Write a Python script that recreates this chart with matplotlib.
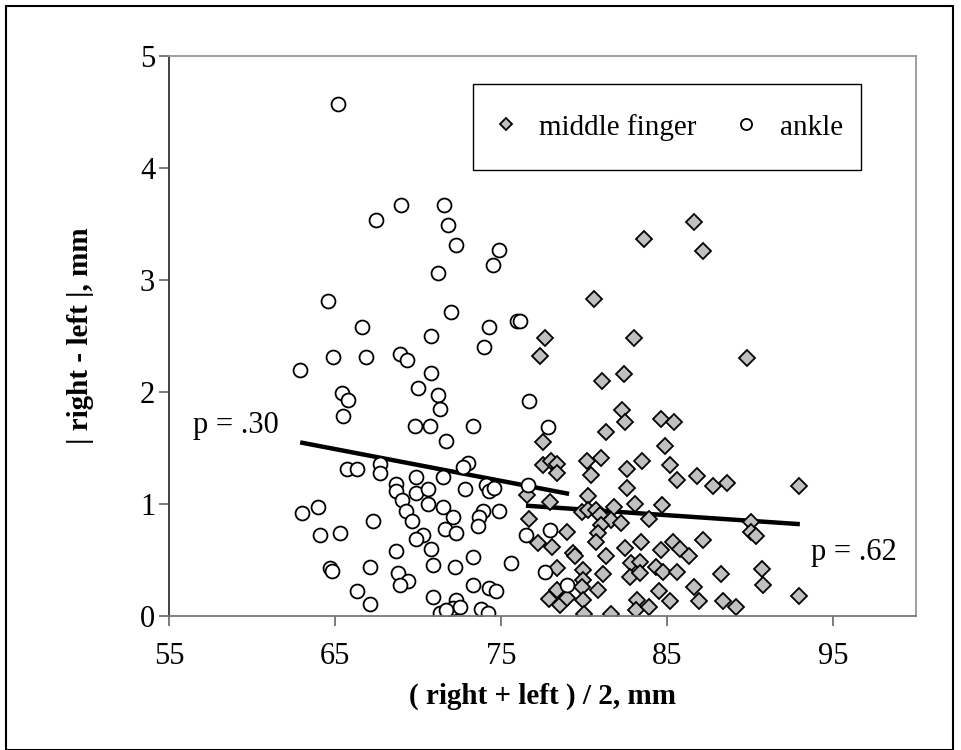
import matplotlib
matplotlib.use("Agg")
import matplotlib.pyplot as plt
from matplotlib.patches import Rectangle

# ankle: mean of right/left (mm) and absolute difference (mm)
ankle_x = [65.2, 67.45, 69.0, 71.55, 71.8, 72.3, 74.9, 74.5, 71.2, 64.55,
           72.0, 75.95, 76.15, 66.6, 74.3, 70.8, 74.0, 68.9, 69.35, 64.9,
           66.85, 62.9, 70.8, 70.0, 65.4, 65.8, 71.2, 71.3, 76.7, 65.5,
           69.8, 70.7, 73.3, 77.8, 71.7, 65.7, 66.35, 67.7, 67.7, 73.0,
           72.7, 69.85, 71.5, 68.65, 68.7, 69.85, 70.6, 72.8, 74.1, 74.3,
           74.6, 76.6, 69.05, 70.6, 71.5, 63.0, 64.0, 69.25, 73.9, 74.9,
           69.65, 72.1, 73.7, 67.3, 73.6, 71.6, 72.3, 64.1, 65.3, 70.3,
           69.85, 70.8, 68.65, 77.95, 76.5, 73.3, 75.6, 70.9, 67.1, 72.25,
           64.7, 64.8, 68.8, 77.65, 69.4, 68.9, 79.0, 73.3, 66.3, 74.3,
           74.7, 70.9, 67.1, 72.3, 72.1, 72.5, 71.3, 71.7, 73.8, 74.2]
ankle_y = [4.57, 3.54, 3.67, 3.67, 3.49, 3.31, 3.27, 3.13, 3.06, 2.81,
           2.71, 2.63, 2.63, 2.58, 2.58, 2.50, 2.40, 2.34, 2.29, 2.31,
           2.31, 2.20, 2.17, 2.04, 1.99, 1.93, 1.97, 1.85, 1.92, 1.79,
           1.70, 1.70, 1.70, 1.69, 1.56, 1.31, 1.31, 1.36, 1.28, 1.37,
           1.33, 1.24, 1.24, 1.18, 1.12, 1.10, 1.13, 1.13, 1.17, 1.12,
           1.14, 1.17, 1.04, 1.00, 0.97, 0.92, 0.97, 0.94, 0.94, 0.94,
           0.85, 0.88, 0.885, 0.85, 0.80, 0.78, 0.74, 0.72, 0.74, 0.72,
           0.69, 0.60, 0.58, 0.77, 0.72, 0.53, 0.47, 0.455, 0.44, 0.44,
           0.43, 0.40, 0.38, 0.39, 0.31, 0.28, 0.28, 0.28, 0.22, 0.25,
           0.22, 0.17, 0.11, 0.14, 0.07, 0.08, 0.03, 0.05, 0.06, 0.03]

# middle finger
finger_x = [86.65, 83.63, 87.15, 80.6, 77.65, 77.35, 83.03, 89.8, 81.1, 82.4,
            82.3, 82.45, 84.65, 85.45, 81.35, 84.85, 77.5, 77.5, 78.0, 78.35,
            78.35, 80.15, 81.0, 80.4, 82.6, 83.5, 85.2, 85.6, 86.8, 87.75,
            88.6, 92.95, 82.6, 80.25, 83.05, 84.7, 76.55, 77.95, 76.7, 79.85,
            80.25, 80.75, 80.95, 81.8, 81.65, 82.25, 81.05, 80.85, 83.9, 90.05,
            90.05, 90.35, 77.2, 78.1, 79.0, 79.35, 79.45, 80.75, 81.35, 82.45,
            83.45, 84.65, 85.35, 85.8, 86.3, 87.15, 78.4, 79.95, 79.95, 81.15,
            82.85, 83.35, 82.75, 83.35, 84.35, 84.75, 85.6, 88.25, 90.7, 90.8,
            92.95, 78.35, 77.9, 78.55, 79.0, 79.85, 79.95, 80.0, 80.85, 81.6,
            83.2, 83.15, 83.9, 84.5, 85.2, 86.65, 86.9, 88.35, 89.15]
finger_y = [3.52, 3.37, 3.26, 2.83, 2.48, 2.32, 2.48, 2.30, 2.10, 2.16,
            1.84, 1.73, 1.76, 1.73, 1.64, 1.52, 1.55, 1.35, 1.38, 1.36,
            1.28, 1.38, 1.41, 1.26, 1.31, 1.38, 1.35, 1.21, 1.25, 1.16,
            1.19, 1.16, 1.145, 1.07, 1.00, 0.99, 1.08, 1.02, 0.87, 0.93,
            0.95, 0.945, 0.90, 0.975, 0.86, 0.83, 0.81, 0.74, 0.87, 0.84,
            0.75, 0.71, 0.65, 0.62, 0.75, 0.56, 0.535, 0.66, 0.535, 0.61,
            0.66, 0.59, 0.66, 0.595, 0.535, 0.68, 0.43, 0.41, 0.32, 0.375,
            0.475, 0.485, 0.35, 0.38, 0.44, 0.395, 0.395, 0.375, 0.42, 0.28,
            0.18, 0.23, 0.15, 0.10, 0.16, 0.26, 0.14, 0.02, 0.23, 0.02,
            0.14, 0.05, 0.08, 0.225, 0.13, 0.256, 0.13, 0.13, 0.08]

# linear trend lines (end points)
ankle_fit_x = [62.9, 79.1]
ankle_fit_y = [1.55, 1.09]
finger_fit_x = [76.5, 93.0]
finger_fit_y = [0.985, 0.82]

x_ticks = [55, 65, 75, 85, 95]
y_ticks = [0, 1, 2, 3, 4, 5]

plt.rcParams['font.family'] = ['Liberation Serif', 'DejaVu Serif']

fig = plt.figure(figsize=(9.61, 7.5), dpi=100)
ax = fig.add_axes([0.1759, 0.1787, 0.7773, 0.7466])

# trend lines sit under the markers
ax.plot(ankle_fit_x, ankle_fit_y, color='black', lw=3.2, zorder=1.5, solid_capstyle='butt')
ax.plot(finger_fit_x, finger_fit_y, color='black', lw=3.2, zorder=1.5, solid_capstyle='butt')

ax.plot(finger_x, finger_y, ls='none', marker='D', ms=8.2, mfc='#c0c0c0',
        mec='black', mew=1.3, label='middle finger', zorder=2)
ax.plot(ankle_x, ankle_y, ls='none', marker='o', ms=10, mfc='white',
        mec='black', mew=1.3, label='ankle', zorder=2.1)

ax.set_xlim(55, 100)
ax.set_ylim(0, 5)
ax.set_xticks(x_ticks)
ax.set_yticks(y_ticks)
ax.tick_params(axis='both', direction='out', length=7, width=1.2, colors='#666666',
               labelsize=22, labelcolor='black')
ax.tick_params(axis='x', pad=12)
ax.tick_params(axis='y', pad=3)

ax.spines['left'].set_color('#333333')
ax.spines['bottom'].set_color('#777777')
ax.spines['top'].set_color('#999999')
ax.spines['right'].set_color('#999999')
for s in ax.spines.values():
    s.set_linewidth(1.3)

ax.set_xlabel('( right + left ) / 2, mm', fontsize=21, fontweight='bold')
ax.set_ylabel('| right - left |, mm', fontsize=21, fontweight='bold')
ax.xaxis.set_label_coords(0.5, -0.12)
ax.yaxis.set_label_coords(-0.10, 0.5)

ax.text(56.45, 1.70, 'p = .30', fontsize=22, va='center', ha='left')
ax.text(93.7, 0.57, 'p = .62', fontsize=22, va='center', ha='left')

# legend box drawn separately so its size matches the original
ax.add_patch(Rectangle((0.407, 0.796), 0.519, 0.154, transform=ax.transAxes,
                       facecolor='white', edgecolor='black', lw=1.0, zorder=4))
leg = ax.legend(loc='center', bbox_to_anchor=(0.6665, 0.873), ncol=2, fontsize=21,
                frameon=False, borderpad=0, handletextpad=0.65, columnspacing=1.2,
                borderaxespad=0, handlelength=1.0, markerscale=0.8)
leg.set_zorder(5)

# outer chart border
fig.patches.append(Rectangle((6 / 961, 0.0), 947 / 961, 744 / 750, transform=fig.transFigure,
                             fill=False, edgecolor='black', lw=1.5))

fig.savefig('out.png', dpi=100)
plt.close(fig)
